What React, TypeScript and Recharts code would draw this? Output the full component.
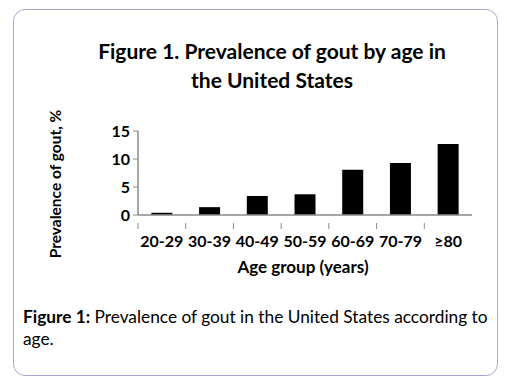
import { Bar, BarChart, XAxis, YAxis } from "recharts";

const ageGroups = ["20-29", "30-39", "40-49", "50-59", "60-69", "70-79", "≥80"];
const prevalence = [0.4, 1.4, 3.4, 3.7, 8.1, 9.3, 12.7];
const yTicks = [0, 5, 10, 15];

const data = ageGroups.map((age, i) => ({ age, value: prevalence[i] }));

const FONT = "Lato, 'Open Sans', sans-serif";
const AXIS = "#8a8a8a";

const CHART_W = 507;
const CHART_H = 380;
const PLOT_LEFT = 138;
const PLOT_RIGHT = 472;
const BAND = (PLOT_RIGHT - PLOT_LEFT) / ageGroups.length;

// label at the band centre, tick mark at the band's left edge
function AgeTick(props: any) {
	const { x, y, payload } = props;
	const left = x - BAND / 2;
	return (
		<g>
			<line x1={left} x2={left} y1={y} y2={y + 6} stroke={AXIS} strokeWidth={1} />
			<text
				x={x}
				y={y + 24}
				textAnchor="middle"
				fontFamily={FONT}
				fontWeight={700}
				fontSize={16}
				fill="#000"
			>
				{payload.value}
			</text>
		</g>
	);
}

export default function App() {
	return (
		<div
			style={{
				position: "fixed",
				left: 0,
				top: 0,
				width: CHART_W,
				height: CHART_H,
				background: "#fff",
				fontFamily: FONT,
			}}
		>
			<div
				style={{
					position: "absolute",
					left: 13,
					top: 9,
					width: 485,
					height: 367,
					border: "1.5px solid #a4a8d0",
					borderRadius: 12,
					boxSizing: "border-box",
				}}
			/>
			<div
				style={{
					position: "absolute",
					left: 72,
					width: 400,
					top: 36,
					textAlign: "center",
					fontWeight: 700,
					fontSize: 21,
					lineHeight: "29px",
					color: "#000",
				}}
			>
				Figure 1. Prevalence of gout by age in
				<br />
				the United States
			</div>
			<svg
				width={40}
				height={160}
				style={{ position: "absolute", left: 35, top: 104 }}
			>
				<text
					transform="translate(26,80) rotate(-90)"
					textAnchor="middle"
					fontFamily={FONT}
					fontWeight={700}
					fontSize={15.5}
					fill="#000"
				>
					Prevalence of gout, %
				</text>
			</svg>
			<div
				style={{
					position: "absolute",
					left: 303,
					top: 266,
					transform: "translate(-50%, -50%)",
					whiteSpace: "nowrap",
					fontWeight: 700,
					fontSize: 17,
				}}
			>
				Age group (years)
			</div>
			<div
				style={{
					position: "absolute",
					left: 23,
					top: 306,
					fontSize: 17.3,
					lineHeight: "22px",
					color: "#000",
					whiteSpace: "nowrap",
				}}
			>
				<div>
					<b>Figure 1:</b>
					<span> Prevalence of gout in the United States according to</span>
				</div>
				<div>age.</div>
			</div>
			<BarChart
				width={CHART_W}
				height={CHART_H}
				data={data}
				barCategoryGap="28%"
				margin={{ top: 131, right: CHART_W - PLOT_RIGHT, bottom: 135, left: PLOT_LEFT - 40 }}
				style={{ position: "absolute", left: 0, top: 0 }}
			>
				<XAxis
					xAxisId="top"
					orientation="top"
					dataKey="age"
					height={0}
					tick={false}
					tickLine={false}
					axisLine={{ stroke: AXIS }}
				/>
				<YAxis
					yAxisId="right"
					orientation="right"
					width={0}
					domain={[0, 15]}
					tick={false}
					tickLine={false}
					axisLine={{ stroke: AXIS }}
				/>
				<XAxis
					dataKey="age"
					height={30}
					interval={0}
					tickLine={false}
					axisLine={{ stroke: AXIS, strokeWidth: 1.5 }}
					tick={<AgeTick />}
				/>
				<YAxis
					width={40}
					domain={[0, 15]}
					ticks={yTicks}
					interval={0}
					tickSize={5}
					tickMargin={3}
					axisLine={{ stroke: AXIS, strokeWidth: 1.5 }}
					tickLine={{ stroke: AXIS }}
					tick={{ fill: "#000", fontFamily: FONT, fontWeight: 700, fontSize: 16 }}
				/>
				<Bar dataKey="value" fill="#000" isAnimationActive={false} />
			</BarChart>
		</div>
	);
}
